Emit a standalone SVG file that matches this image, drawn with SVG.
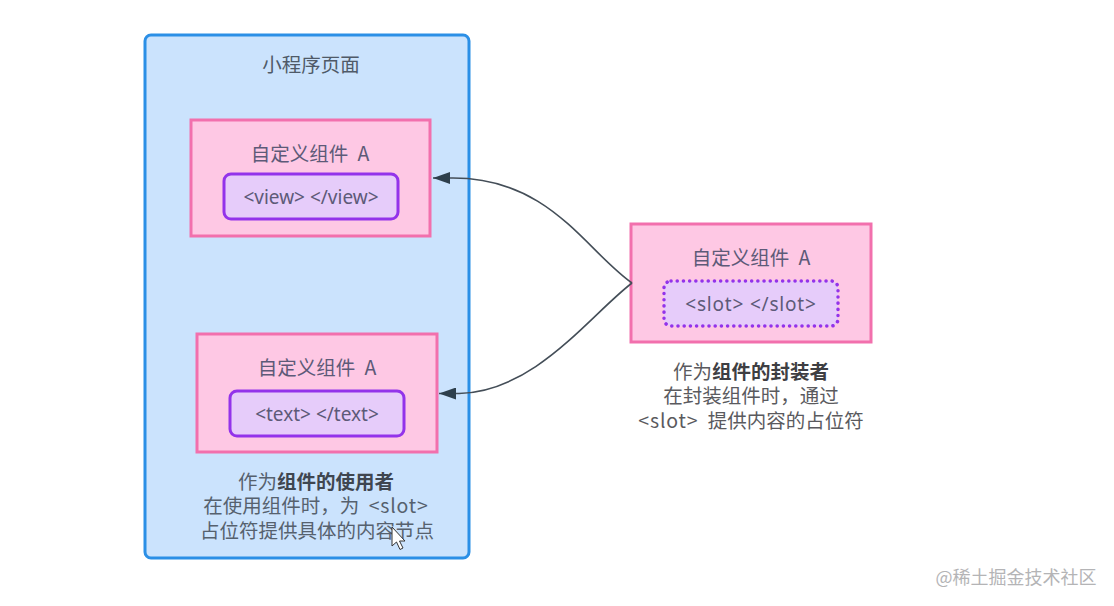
<svg xmlns="http://www.w3.org/2000/svg" width="1114" height="606" viewBox="0 0 1114 606">
<style>
text{font-family:"Noto Sans","Noto Sans CJK SC",sans-serif;font-size:19px;fill:#4f5a68;text-anchor:middle}
.cjk{font-family:"Noto Sans CJK SC","Noto Sans",sans-serif;font-size:19.5px;word-spacing:5px}
.page{fill:#cbe3fd;stroke:#2b8fe6;stroke-width:3}
.comp{fill:#fec8e4;stroke:#f270ad;stroke-width:3}
.inner{fill:#e6ccfa;stroke:#9333ea;stroke-width:3}
.slot{fill:#e6ccfa;stroke:#9333ea;stroke-width:3.5;stroke-dasharray:0.1 6.1;stroke-linecap:round}
.tag{fill:#5d5a78}
.cap{fill:#56616e}
.out{fill:#5a5a5e}
.wm{fill:#b4b4b6;font-size:18px}
.b{font-weight:700}
.sp{letter-spacing:.8px}
.edge{fill:none;stroke:#444e58;stroke-width:1.6}
</style>
<defs>
<marker id="arrow" markerUnits="userSpaceOnUse" markerWidth="18" markerHeight="12" refX="17" refY="6" orient="auto">
<path d="M0 0L17 6L0 12Z" fill="#2e3f4c"/>
</marker>
</defs>
<rect width="1114" height="606" fill="#fff"/>
<g id="page">
<rect class="page" x="145" y="35" width="324" height="523" rx="6"/>
<text class="cjk" x="311" y="72">小程序页面</text>
<text class="cjk cap" x="316" y="489">作为<tspan class="b" fill="#3f4650">组件的使用者</tspan></text>
<text class="cjk cap" x="316" y="513">在使用组件时，为 <tspan class="sp">&lt;slot&gt;</tspan></text>
<text class="cjk cap" x="317" y="538">占位符提供具体的内容节点</text>
</g>
<g id="comp-view">
<rect class="comp" x="191" y="120" width="239" height="116"/>
<text class="cjk tag" x="310" y="161">自定义组件 A</text>
<rect class="inner" x="224" y="174" width="174" height="45" rx="7"/>
<text class="tag" x="311" y="204">&lt;view&gt; &lt;/view&gt;</text>
</g>
<g id="comp-text">
<rect class="comp" x="197" y="334" width="240" height="118"/>
<text class="cjk tag" x="317" y="375">自定义组件 A</text>
<rect class="inner" x="230" y="391" width="174" height="45" rx="7"/>
<text class="tag" x="317" y="421">&lt;text&gt; &lt;/text&gt;</text>
</g>
<g id="comp-slot">
<rect class="comp" x="631" y="224" width="240" height="118"/>
<text class="cjk tag" x="751" y="265">自定义组件 A</text>
<rect class="slot" x="664" y="281" width="174" height="45" rx="7"/>
<text class="tag sp" x="751" y="311">&lt;slot&gt; &lt;/slot&gt;</text>
<text class="cjk out" x="751" y="379">作为<tspan class="b" fill="#3e3e42">组件的封装者</tspan></text>
<text class="cjk out" x="751" y="403">在封装组件时，通过</text>
<text class="cjk out" x="751" y="428"><tspan class="sp">&lt;slot&gt;</tspan> 提供内容的占位符</text>
</g>
<g id="connectors">
<path class="edge" marker-end="url(#arrow)" d="M632 283C585 250 550 178 453 178H433"/>
<path class="edge" marker-end="url(#arrow)" d="M632 283C590 315 535 392 459 393.500L439 393.500"/>
</g>
<g id="cursor">
<path d="M392 527V546L396.500 542L400 549.500L403 548L399.500 541H405Z" fill="#fff" stroke="#333" stroke-width="1"/>
</g>
<text class="cjk wm" x="1016" y="584">@稀土掘金技术社区</text>
</svg>
